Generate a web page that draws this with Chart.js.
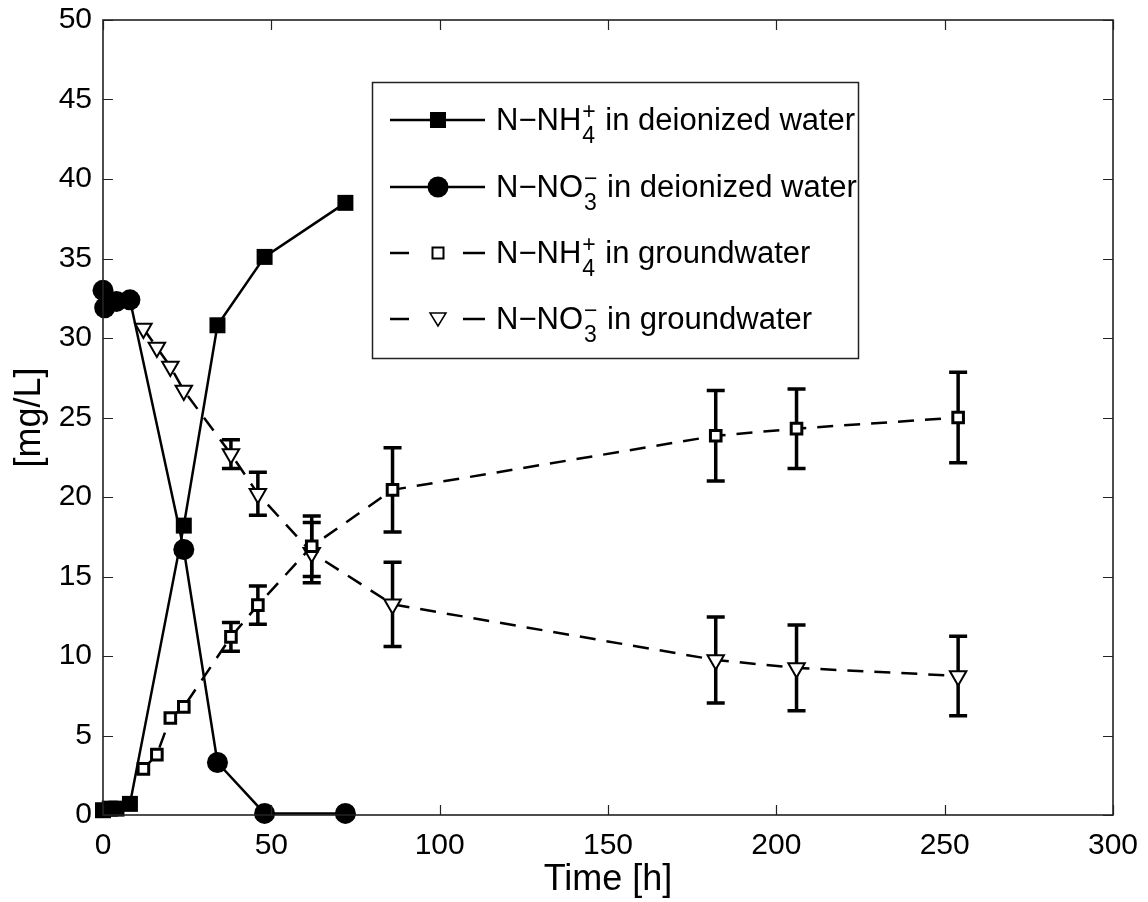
<!DOCTYPE html>
<html>
<head>
<meta charset="utf-8">
<script src="https://cdn.jsdelivr.net/npm/chart.js@4/dist/chart.umd.min.js"></script>
<style>
  html, body { margin: 0; padding: 0; background: #fff; }
  #wrap { width: 1148px; height: 902px; }
</style>
</head>
<body>
<div id="wrap"><canvas id="c" width="1148" height="902"></canvas></div>
<script>
// ---- data ----
const timeDiNH4 = [0, 2, 4, 8, 24, 34, 48, 72];
const nh4Deionized = [0.3, 0.4, 0.4, 0.7, 18.2, 30.8, 35.1, 38.5];

const timeDiNO3 = [0, 0.5, 4, 8, 24, 34, 48, 72];
const no3Deionized = [33.0, 31.9, 32.3, 32.4, 16.7, 3.3, 0.1, 0.1];

const timeGw = [12, 16, 20, 24, 38, 46, 62, 86, 182, 206, 254];
const nh4Groundwater = [2.9, 3.8, 6.1, 6.8, 11.2, 13.2, 16.9, 20.45, 23.85, 24.3, 25.0];
const nh4GroundwaterErr = [0, 0, 0, 0, 0.9, 1.2, 1.9, 2.65, 2.85, 2.5, 2.85];
const no3Groundwater = [30.6, 29.4, 28.2, 26.7, 22.7, 20.2, 16.5, 13.25, 9.75, 9.25, 8.75];
const no3GroundwaterErr = [0, 0, 0, 0, 0.9, 1.35, 1.9, 2.65, 2.7, 2.7, 2.5];

const xTicks = [0, 50, 100, 150, 200, 250, 300];
const yTicks = [0, 5, 10, 15, 20, 25, 30, 35, 40, 45, 50];

const legendMain = ['N\u2212NH', 'N\u2212NO', 'N\u2212NH', 'N\u2212NO'];
const legendSup = ['+', '\u2212', '+', '\u2212'];
const legendSub = ['4', '3', '4', '3'];
const legendRest = [' in deionized water', ' in deionized water', ' in groundwater', ' in groundwater'];

const FONT = '"Liberation Sans", Arial, sans-serif';

function pts(xs, ys) { return xs.map((x, i) => ({ x: x, y: ys[i] })); }

// ---- plugins ----
const errorBars = {
  id: 'errorBars',
  beforeDatasetsDraw(chart) {
    const ctx = chart.ctx, xs = chart.scales.x, ys = chart.scales.y;
    ctx.save();
    ctx.strokeStyle = '#000';
    ctx.lineWidth = 3.5;
    ctx.lineCap = 'butt';
    const sets = [[nh4Groundwater, nh4GroundwaterErr], [no3Groundwater, no3GroundwaterErr]];
    sets.forEach(([vals, errs]) => {
      timeGw.forEach((t, i) => {
        if (!errs[i]) return;
        const px = xs.getPixelForValue(t);
        const top = ys.getPixelForValue(vals[i] + errs[i]);
        const bot = ys.getPixelForValue(vals[i] - errs[i]);
        ctx.beginPath();
        ctx.moveTo(px, top); ctx.lineTo(px, bot);
        ctx.moveTo(px - 9, top); ctx.lineTo(px + 9, top);
        ctx.moveTo(px - 9, bot); ctx.lineTo(px + 9, bot);
        ctx.stroke();
      });
    });
    ctx.restore();
  }
};

const boxTicks = {
  id: 'boxTicks',
  afterDraw(chart) {
    const ctx = chart.ctx, a = chart.chartArea, xs = chart.scales.x, ys = chart.scales.y;
    ctx.save();
    ctx.strokeStyle = '#222';
    ctx.lineWidth = 1.2;
    ctx.beginPath();
    xTicks.forEach(v => {
      const px = Math.round(xs.getPixelForValue(v)) + 0.5;
      ctx.moveTo(px, a.bottom); ctx.lineTo(px, a.bottom - 10);
      ctx.moveTo(px, a.top); ctx.lineTo(px, a.top + 10);
    });
    yTicks.forEach(v => {
      const py = Math.round(ys.getPixelForValue(v)) + 0.5;
      ctx.moveTo(a.left, py); ctx.lineTo(a.left + 10, py);
      ctx.moveTo(a.right, py); ctx.lineTo(a.right - 10, py);
    });
    ctx.stroke();
    ctx.lineWidth = 1.6;
    ctx.strokeRect(a.left, a.top, a.right - a.left, a.bottom - a.top);
    ctx.restore();
  }
};

function drawMarker(ctx, kind, x, y) {
  ctx.save();
  ctx.strokeStyle = '#000';
  ctx.fillStyle = '#000';
  ctx.beginPath();
  if (kind === 0) {
    ctx.rect(x - 8, y - 8, 16, 16); ctx.fill();
  } else if (kind === 1) {
    ctx.arc(x, y, 10.5, 0, Math.PI * 2); ctx.fill();
  } else if (kind === 2) {
    ctx.fillStyle = '#fff'; ctx.lineWidth = 2;
    ctx.rect(x - 5.5, y - 5.5, 11, 11); ctx.fill(); ctx.stroke();
  } else {
    ctx.fillStyle = '#fff'; ctx.lineWidth = 1.5;
    ctx.moveTo(x - 8, y - 6); ctx.lineTo(x + 8, y - 6); ctx.lineTo(x, y + 7); ctx.closePath();
    ctx.fill(); ctx.stroke();
  }
  ctx.restore();
}

const customLegend = {
  id: 'customLegend',
  afterDraw(chart) {
    const ctx = chart.ctx;
    ctx.save();
    ctx.fillStyle = '#fff';
    ctx.fillRect(372, 82, 486, 276);
    ctx.strokeStyle = '#222';
    ctx.lineWidth = 1.5;
    ctx.strokeRect(372.5, 82.5, 486, 276);
    const rows = [120, 187, 253, 319];
    rows.forEach((cy, i) => {
      ctx.strokeStyle = '#000';
      ctx.lineWidth = 2.5;
      ctx.beginPath();
      if (i < 2) {
        ctx.moveTo(390, cy); ctx.lineTo(485, cy);
      } else {
        ctx.moveTo(390, cy); ctx.lineTo(409, cy);
        ctx.moveTo(463, cy); ctx.lineTo(485, cy);
      }
      ctx.stroke();
      drawMarker(ctx, i, 438, cy);

      ctx.fillStyle = '#000';
      ctx.textBaseline = 'alphabetic';
      ctx.textAlign = 'left';
      let x = 496;
      ctx.font = '31px ' + FONT;
      ctx.fillText(legendMain[i], x, cy + 10);
      x += ctx.measureText(legendMain[i]).width + 1;
      ctx.font = '23px ' + FONT;
      const wSup = ctx.measureText(legendSup[i]).width;
      const wSub = ctx.measureText(legendSub[i]).width;
      ctx.fillText(legendSup[i], x, cy - 1);
      ctx.fillText(legendSub[i], x, cy + 23);
      x += Math.max(wSup, wSub) + 1;
      ctx.font = '31px ' + FONT;
      ctx.fillText(legendRest[i], x, cy + 10);
    });
    ctx.restore();
  }
};

// ---- chart ----
const solid = { borderColor: '#000', borderWidth: 2.5, showLine: true, clip: false,
                pointBackgroundColor: '#000', pointBorderColor: '#000' };
const dashed = { borderColor: '#000', borderWidth: 2.5, showLine: true, clip: false,
                 borderDash: [16, 11], pointBackgroundColor: '#fff', pointBorderColor: '#000' };

new Chart(document.getElementById('c'), {
  type: 'scatter',
  data: {
    datasets: [
      Object.assign({ label: 'N-NH4+ in deionized water', data: pts(timeDiNH4, nh4Deionized),
        pointStyle: 'rect', pointRadius: 11.3, pointBorderWidth: 0 }, solid),
      Object.assign({ label: 'N-NO3- in deionized water', data: pts(timeDiNO3, no3Deionized),
        pointStyle: 'circle', pointRadius: 10.5, pointBorderWidth: 0 }, solid),
      Object.assign({ label: 'N-NH4+ in groundwater', data: pts(timeGw, nh4Groundwater),
        pointStyle: 'rect', pointRadius: 7.5, pointBorderWidth: 3 }, dashed),
      Object.assign({ label: 'N-NO3- in groundwater', data: pts(timeGw, no3Groundwater),
        pointStyle: 'triangle', rotation: 180, pointRadius: 9.5, pointBorderWidth: 2 }, dashed)
    ]
  },
  options: {
    responsive: false,
    animation: false,
    devicePixelRatio: 1,
    layout: { padding: { top: 20, right: 35, left: 0, bottom: 0 } },
    plugins: { legend: { display: false }, tooltip: { enabled: false } },
    scales: {
      x: {
        type: 'linear', min: 0, max: 300,
        afterBuildTicks: s => { s.ticks = xTicks.map(v => ({ value: v })); },
        afterFit: s => { s.height = 87; s.paddingLeft = 0; s.paddingRight = 0; },
        grid: { display: false, drawTicks: false },
        border: { display: false },
        ticks: { color: '#000', font: { family: FONT, size: 30 }, padding: 13, maxRotation: 0 },
        title: { display: true, text: 'Time [h]', color: '#000',
                 font: { family: FONT, size: 36 }, padding: { top: 0, bottom: 0 } }
      },
      y: {
        type: 'linear', min: 0, max: 50,
        afterBuildTicks: s => { s.ticks = yTicks.map(v => ({ value: v })); },
        afterFit: s => { s.width = 103; s.paddingTop = 0; s.paddingBottom = 0; },
        grid: { display: false, drawTicks: false },
        border: { display: false },
        ticks: { color: '#000', font: { family: FONT, size: 30 }, padding: 11 },
        title: { display: true, text: '[mg/L]', color: '#000',
                 font: { family: FONT, size: 36 }, padding: { top: 8, bottom: 0 } }
      }
    }
  },
  plugins: [errorBars, boxTicks, customLegend]
});
</script>
</body>
</html>
